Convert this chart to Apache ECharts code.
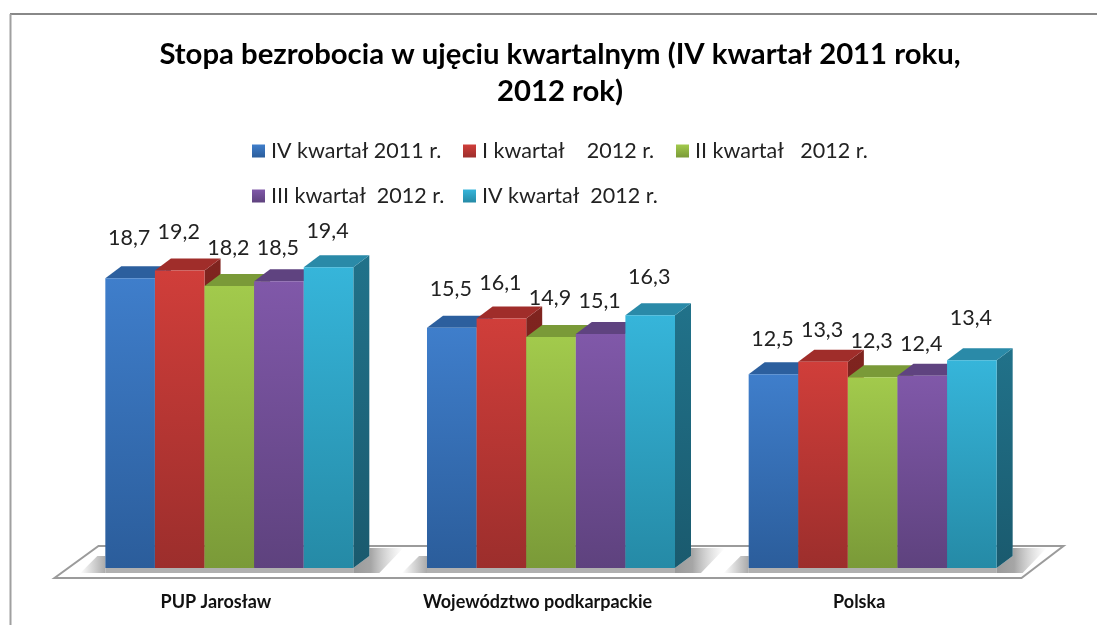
<!DOCTYPE html>
<html><head><meta charset="utf-8">
<style>html,body{margin:0;padding:0;background:#fff}#c{width:1097px;height:625px}</style>
<script src="https://cdn.jsdelivr.net/npm/echarts@6/dist/echarts.min.js"></script>
</head><body><div id="c"></div>
<script>
const categories = ['PUP Jarosław', 'Województwo podkarpackie', 'Polska'];
const seriesNames = ['IV kwartał 2011 r.', 'I kwartał    2012 r.', 'II kwartał   2012 r.', 'III kwartał  2012 r.', 'IV kwartał  2012 r.'];
const q4_2011 = [18.7, 15.5, 12.5];
const q1_2012 = [19.2, 16.1, 13.3];
const q2_2012 = [18.2, 14.9, 12.3];
const q3_2012 = [18.5, 15.1, 12.4];
const q4_2012 = [19.4, 16.3, 13.4];
const seriesValues = [q4_2011, q1_2012, q2_2012, q3_2012, q4_2012];
const titleText = 'Stopa bezrobocia w ujęciu kwartalnym (IV kwartał 2011 roku,\n2012 rok)';

// styling, kept apart from the data
const front = [['#3f7ecb','#2b5d9b'],['#d03e3a','#9c2e2c'],['#a2ca4c','#7a9a38'],['#8058a9','#5e427e'],['#36b5da','#258aa6']];
const topFace = ['#2c5f9e','#a02d2a','#7a9a38','#5f4380','#2a8aa8'];
const sideFace = [['#234f84','#1d4270'],['#80241f','#6c1f1c'],['#5f7a2b','#4f6624'],['#4b3566','#3e2c55'],['#21728a','#1a5a6e']];
const labelLift = [[40,39,35],[38,35,32],[38,39,36],[33,33,32],[36,38,42]];
const legendSpots = [[247,135],[458,135],[671,135],[247,180],[458,180]];
const barShare = 0.1542, dx = 16, dy = 12;
const grad = (c0,c1) => new echarts.graphic.LinearGradient(0,0,0,1,[{offset:0,color:c0},{offset:1,color:c1}]);

const barSeries = seriesNames.map((name, s) => ({
  type:'custom', name, z:3,
  data: seriesValues[s].map((v,i)=>[i,v]),
  encode:{x:0,y:1},
  itemStyle:{color:front[s][0]},
  renderItem(params, api){
    const i = api.value(0), v = api.value(1);
    const base = api.coord([i,0]), top = api.coord([i,v]);
    const w = api.size([1,0])[0]*barShare;
    const x0 = base[0]+(s-2.5)*w, x1 = x0+w, yb = base[1], yt = top[1];
    return {type:'group',children:[
      {type:'polygon',z2:1,shape:{points:[[x1,yt],[x1+dx,yt-dy],[x1+dx,yb-dy],[x1,yb]]},style:{fill:grad(sideFace[s][0],sideFace[s][1])}},
      {type:'polygon',z2:2,shape:{points:[[x0,yt],[x0+dx,yt-dy],[x1+dx,yt-dy],[x1,yt]]},style:{fill:topFace[s]}},
      {type:'rect',z2:3,shape:{x:x0,y:yt,width:w,height:yb-yt},style:{fill:grad(front[s][0],front[s][1])}},
      {type:'text',z2:100,style:{text:String(v).replace('.',','),x:x0+w/2-1,y:yt-labelLift[s][i],align:'center',verticalAlign:'middle',fontFamily:'Lato',fontSize:21.5,fill:'#222'}}
    ]};
  }
}));

const floorSeries = {
  type:'custom', silent:true, z:1, data:[[0,0]], encode:{x:0,y:1},
  renderItem(params, api){
    const a = api.coord([0,0]), b = api.coord([categories.length-1,0]);
    const m = api.size([1,0])[0]/2, L=a[0]-m, R=b[0]+m, Y=a[1];
    return {type:'polygon',shape:{points:[[L-14,Y+10],[R-12,Y+10],[R+30,Y-22],[L+30,Y-22]]},
      style:{fill:'#fff',stroke:'#9b9b9b',lineWidth:2}};
  }
};
const shadowSeries = {
  type:'custom', silent:true, z:2, data:categories.map((c,i)=>[i,0]), encode:{x:0,y:1},
  renderItem(params, api){
    const p = api.coord([api.value(0),0]);
    const w = api.size([1,0])[0]*barShare*2.5, x0=p[0]-w, x1=p[0]+w, y=p[1];
    const h = (c,o)=>new echarts.graphic.LinearGradient(0,0,1,0,c.map((col,k)=>({offset:o[k],color:col})));
    return {type:'group',children:[
      {type:'polygon',shape:{points:[[x0-25,y+5],[x0-8,y-12],[x0,y-12],[x0,y+5]]},style:{fill:h(['rgba(170,170,170,0)','#aaaaaa'],[0,1])}},
      {type:'rect',shape:{x:x0,y:y,width:x1-x0,height:5},style:{fill:'#b0b0b0'}},
      {type:'polygon',shape:{points:[[x1,y],[x1+dx,y-dy],[x1+dx,y-20],[x1+50,y-20],[x1+26,y+5],[x1,y+5]]},style:{fill:h(['#9a9a9a','#a6a6a6','rgba(200,200,200,0)'],[0,0.35,1])}}
    ]};
  }
};

const option = {
  animation:false,
  backgroundColor:'#fff',
  title:{text:titleText,left:555,top:31,textAlign:'center',textStyle:{fontFamily:'Lato',fontWeight:'bold',fontSize:29.3,lineHeight:37,color:'#000'}},
  legend:seriesNames.map((name,s)=>({
    left:legendSpots[s][0],top:legendSpots[s][1],orient:'horizontal',selectedMode:false,itemWidth:13,itemHeight:13,icon:'rect',
    data:[{name,itemStyle:{color:grad(front[s][0],front[s][1])}}],
    textStyle:{fontFamily:'Lato',fontSize:21.5,color:'#222',padding:[0,0,0,1]}
  })),
  grid:{left:68.5,right:63.5,top:258,bottom:57},
  xAxis:{type:'category',data:categories,axisLine:{show:false},axisTick:{show:false},
    axisLabel:{margin:25,padding:[0,27,0,0],fontFamily:'Lato',fontWeight:'bold',fontSize:18,color:'#111'}},
  yAxis:{type:'value',min:0,max:20,interval:5,show:false},
  graphic:[
    {type:'line',shape:{x1:10,y1:14,x2:1097,y2:14},style:{stroke:'#888',lineWidth:2}},
    {type:'line',shape:{x1:10.5,y1:14,x2:10.5,y2:625},style:{stroke:'#a0a0a0',lineWidth:2}}
  ],
  series:[floorSeries,shadowSeries,...barSeries]
};
echarts.init(document.getElementById('c'),null,{renderer:'canvas'}).setOption(option);
</script></body></html>
